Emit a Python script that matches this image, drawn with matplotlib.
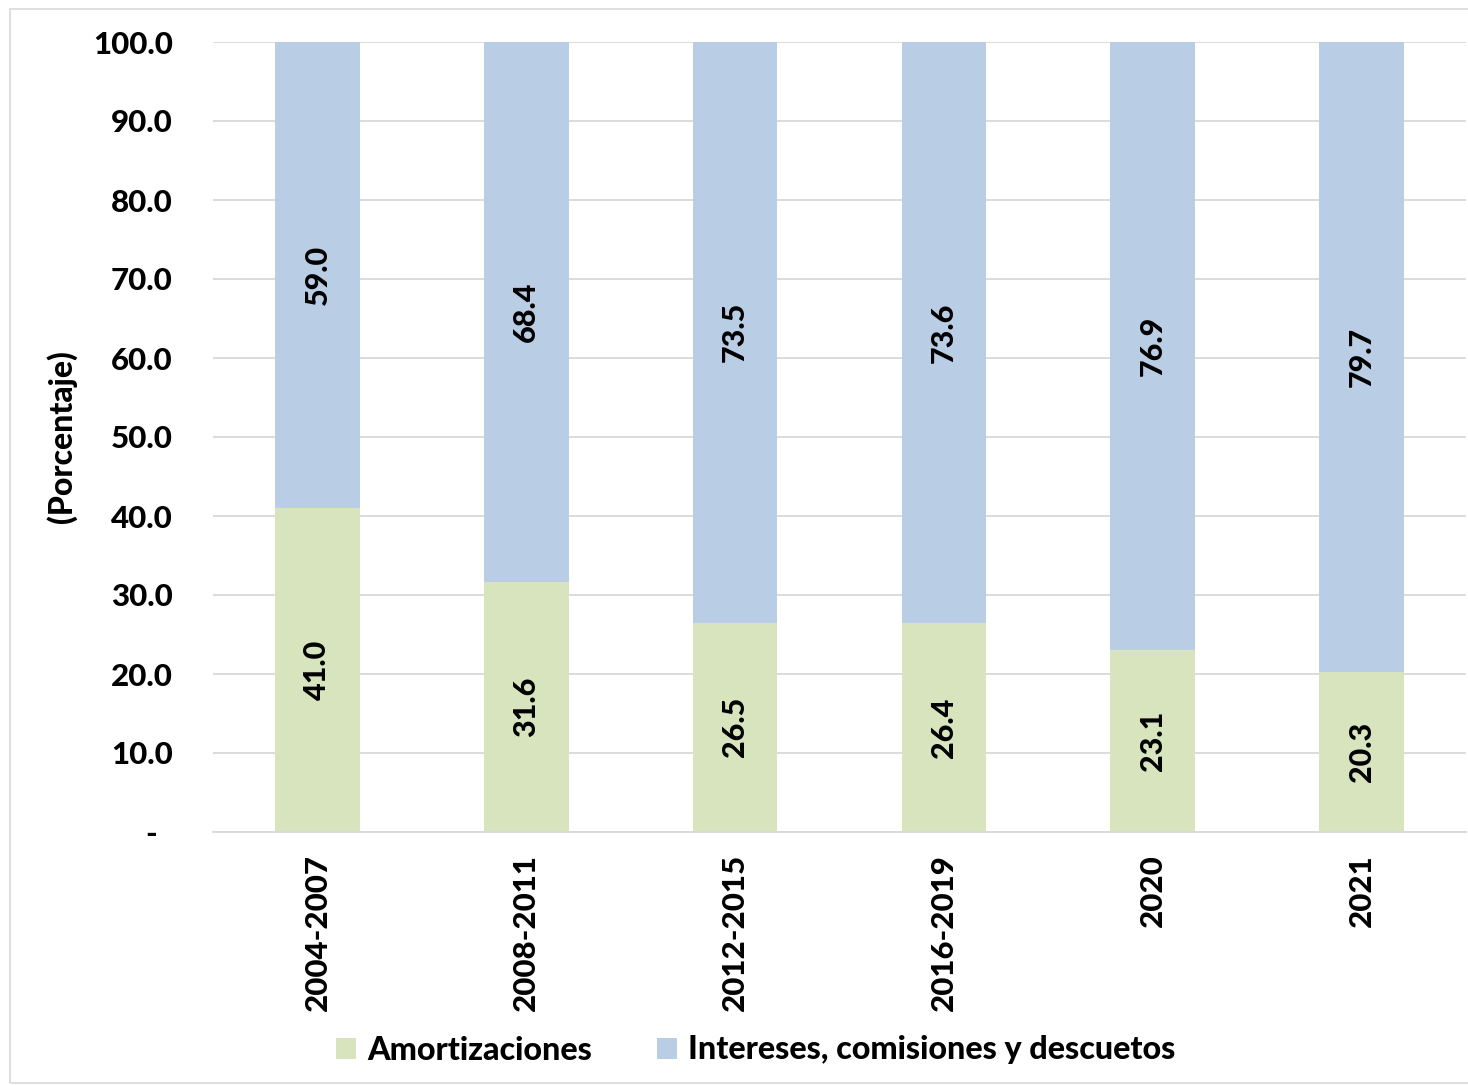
import matplotlib
matplotlib.use("Agg")
import matplotlib.pyplot as plt
from matplotlib.patches import Rectangle
import numpy as np

plt.rcParams['font.family'] = ['Lato', 'DejaVu Sans']
WT = 900

categories = ["2004-2007", "2008-2011", "2012-2015", "2016-2019", "2020", "2021"]
amortizaciones = [41.0, 31.6, 26.5, 26.4, 23.1, 20.3]
intereses = [59.0, 68.4, 73.5, 73.6, 76.9, 79.7]
yticks = [0, 10, 20, 30, 40, 50, 60, 70, 80, 90, 100]
ytick_labels = ["-  "] + [f"{v:.1f}" for v in yticks[1:]]

green = "#D7E4BD"
blue = "#B9CDE5"

fig = plt.figure(figsize=(14.68, 10.85), dpi=100)
ax = fig.add_axes([213 / 1468, 1 - 832 / 1085, 1253 / 1468, 790 / 1085])

# outer chart frame
fig.patches.append(Rectangle((10 / 1468, 1 - 1083 / 1085), 1.0, (1083 - 9) / 1085,
                             transform=fig.transFigure, fill=False,
                             edgecolor="#D9D9D9", linewidth=1.2, zorder=0))

x = np.arange(len(categories))
w = 0.405
b1 = ax.bar(x, amortizaciones, w, color=green, label="Amortizaciones", zorder=2)
b2 = ax.bar(x, intereses, w, bottom=amortizaciones, color=blue,
            label="Intereses, comisiones y descuetos", zorder=2)

for i in range(len(categories)):
    ax.text(x[i], amortizaciones[i] / 2, f"{amortizaciones[i]:.1f}", rotation=90,
            ha="center", va="center", fontsize=22, fontweight=WT, color="black", zorder=3)
    ax.text(x[i], amortizaciones[i] + intereses[i] / 2, f"{intereses[i]:.1f}", rotation=90,
            ha="center", va="center", fontsize=22, fontweight=WT, color="black", zorder=3)

ax.set_xlim(-0.5, len(categories) - 0.5)
ax.set_ylim(0, 100)
ax.set_yticks(yticks)
ax.set_yticklabels(ytick_labels, fontsize=22.5, fontweight=WT)
ax.set_xticks(x)
ax.set_xticklabels(categories, rotation=90, fontsize=22.5, fontweight=WT)
ax.tick_params(axis="both", length=0)
ax.tick_params(axis="y", pad=29)
ax.tick_params(axis="x", pad=16)

ax.grid(axis="y", color="#D9D9D9", linewidth=1.3, zorder=0)
ax.set_axisbelow(True)
for s in ["top", "right", "left"]:
    ax.spines[s].set_visible(False)
ax.spines["bottom"].set_color("#D9D9D9")
ax.spines["bottom"].set_linewidth(1.3)

fig.text(62 / 1468, 1 - 437 / 1085, "(Porcentaje)", rotation=90, ha="center", va="center",
         fontsize=23, fontweight=WT)

fig.legend(handles=[b1, b2], loc="center", bbox_to_anchor=(756 / 1468, 1 - 1050 / 1085),
           ncol=2, frameon=False, handlelength=0.62, handleheight=0.62,
           handletextpad=0.35, columnspacing=2.0,
           prop={"weight": WT, "size": 23.2})

fig.savefig("out.png", dpi=100, facecolor="white")
